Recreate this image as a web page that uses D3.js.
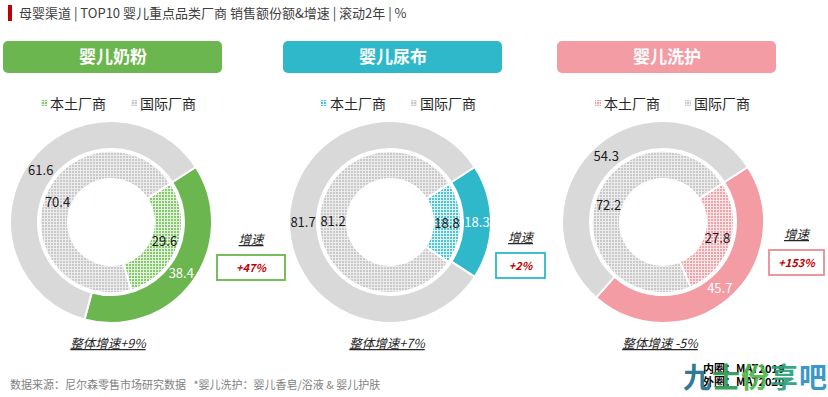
<!DOCTYPE html>
<html>
<head>
<meta charset="utf-8">
<script src="https://cdn.jsdelivr.net/npm/d3@7/dist/d3.min.js"></script>
<style>
  html, body { margin: 0; padding: 0; background: #fff; }
  svg { display: block; font-family: "Noto Sans CJK SC", "Noto Sans", sans-serif; }
</style>
</head>
<body>
<svg id="chart" width="828" height="397"></svg>
<script>
// data
const categories = ['婴儿奶粉', '婴儿尿布', '婴儿洗护'];
const vendors = ['本土厂商', '国际厂商'];
const localInner = [29.6, 18.8, 27.8];   // 内圈 MAT2019
const intlInner = [70.4, 81.2, 72.2];
const localOuter = [38.4, 18.3, 45.7];   // 外圈 MAT2020
const intlOuter = [61.6, 81.7, 54.3];
const localGrowth = ['+47%', '+2%', '+153%'];
const totalGrowth = ['整体增速+9%', '整体增速+7%', '整体增速 -5%'];

const titleText = '母婴渠道 | TOP10 婴儿重点品类厂商 销售额份额&增速 | 滚动2年 | %';
const sourceText = '数据来源：尼尔森零售市场研究数据   *婴儿洗护：婴儿香皂/浴液 & 婴儿护肤';

// layout / style
const colors = ['#6bb64e', '#2eb8c9', '#f39ca3'];
const dotColors = ['#86c86e', '#52c3d1', '#f0a3a9'];
const dotBg = ['#e3f2dd', '#ddf3f6', '#fbe6e8'];
const boxBorder = ['#6bb64e', '#2eb8c9', '#ea8b93'];
const panelX = [3, 283, 557];
const centerX = [111, 390, 663];
const centerY = 222;
const boxW = [68, 49, 55];
const boxY = [255, 253, 250];
const startAngle = 57 * Math.PI / 180;

const svg = d3.select('#chart');
const defs = svg.append('defs');

// small dotted tile, like the Excel pattern fill
function dotPattern(id, dot, bg) {
    const p = defs.append('pattern')
        .attr('id', id)
        .attr('patternUnits', 'userSpaceOnUse')
        .attr('width', 3).attr('height', 3);
    p.append('rect').attr('width', 3).attr('height', 3).attr('fill', bg);
    p.append('rect').attr('width', 2).attr('height', 2).attr('fill', dot);
}
dotPattern('dot-grey', '#c9c9c9', '#ececec');
colors.forEach((c, i) => dotPattern('dot-' + i, dotColors[i], dotBg[i]));

// title
svg.append('rect').attr('x', 8).attr('y', 5).attr('width', 4).attr('height', 16).attr('fill', '#c00000');
svg.append('text')
    .attr('x', 19).attr('y', 18)
    .style('font-size', '13px')
    .style('fill', '#404040')
    .text(titleText);

const pie = d3.pie().sort(null).value(d => d)
    .startAngle(startAngle).endAngle(startAngle + 2 * Math.PI);
const innerArc = d3.arc().innerRadius(43).outerRadius(71);
const outerArc = d3.arc().innerRadius(73).outerRadius(101);

categories.forEach((cat, i) => {
    const px = panelX[i];
    const cx = centerX[i];

    // header
    svg.append('rect')
        .attr('x', px).attr('y', 41)
        .attr('width', 219).attr('height', 32)
        .attr('rx', 5)
        .attr('fill', colors[i]);
    svg.append('text')
        .attr('x', px + 110).attr('y', 63)
        .attr('text-anchor', 'middle')
        .style('font-size', '17px')
        .style('font-weight', 'bold')
        .style('fill', '#fff')
        .text(cat);

    // legend
    const legendFill = ['url(#dot-' + i + ')', 'url(#dot-grey)'];
    vendors.forEach((v, j) => {
        const lx = px + 38 + j * 90;
        svg.append('rect')
            .attr('x', lx).attr('y', 100)
            .attr('width', 6).attr('height', 6)
            .attr('fill', legendFill[j]);
        svg.append('text')
            .attr('x', lx + 9).attr('y', 109)
            .style('font-size', '14px')
            .style('fill', '#262626')
            .text(v);
    });

    const g = svg.append('g').attr('transform', `translate(${cx},${centerY})`);

    const rings = [
        { arc: innerArc, values: [localInner[i], intlInner[i]],
          fills: ['url(#dot-' + i + ')', 'url(#dot-grey)'], labelColor: ['#1a1a1a', '#1a1a1a'] },
        { arc: outerArc, values: [localOuter[i], intlOuter[i]],
          fills: [colors[i], '#d9d9d9'], labelColor: ['#fff', '#1a1a1a'] }
    ];

    rings.forEach(ring => {
        const arcs = pie(ring.values);
        g.selectAll(null)
            .data(arcs)
            .enter()
            .append('path')
            .attr('d', ring.arc)
            .attr('fill', (d, k) => ring.fills[k])
            .attr('stroke', '#fff')
            .attr('stroke-width', 2);
        g.selectAll(null)
            .data(arcs)
            .enter()
            .append('text')
            .attr('transform', d => `translate(${ring.arc.centroid(d)})`)
            .attr('text-anchor', 'middle')
            .attr('dy', '0.36em')
            .style('font-size', '13px')
            .style('fill', (d, k) => ring.labelColor[k])
            .text(d => d.data.toFixed(1));
    });

    // growth box
    const bx = cx + 106;
    const bw = boxW[i];
    svg.append('text')
        .attr('x', bx + bw / 2).attr('y', boxY[i] - 11)
        .attr('text-anchor', 'middle')
        .style('font-size', '12.5px')
        .style('font-style', 'italic')
        .style('text-decoration', 'underline')
        .style('fill', '#262626')
        .text('增速');
    svg.append('rect')
        .attr('x', bx).attr('y', boxY[i])
        .attr('width', bw).attr('height', 25)
        .attr('fill', '#fff')
        .attr('stroke', boxBorder[i])
        .attr('stroke-width', 1.8);
    svg.append('text')
        .attr('x', bx + bw / 2).attr('y', boxY[i] + 17)
        .attr('text-anchor', 'middle')
        .style('font-size', '11px')
        .style('font-weight', 'bold')
        .style('font-style', 'italic')
        .style('fill', '#c00000')
        .text(localGrowth[i]);

    // overall growth
    svg.append('text')
        .attr('x', cx - 3).attr('y', 348)
        .attr('text-anchor', 'middle')
        .style('font-size', '12.5px')
        .style('font-style', 'italic')
        .style('text-decoration', 'underline')
        .style('fill', '#262626')
        .text(totalGrowth[i]);
});

// footer
svg.append('text')
    .attr('x', 10).attr('y', 389)
    .style('font-size', '11px')
    .style('fill', '#7f7f7f')
    .style('white-space', 'pre')
    .text(sourceText);

svg.append('text')
    .attr('x', 703).attr('y', 373)
    .style('font-size', '11px').style('font-weight', 'bold').style('fill', '#000')
    .text('内圈：MAT2019');
svg.append('text')
    .attr('x', 703).attr('y', 386)
    .style('font-size', '11px').style('font-weight', 'bold').style('fill', '#000')
    .text('外圈：MAT2020');

// watermark from the source picture
const wm = ['九', '士', '份', '享', '吧'];
const wmColors = ['#1f6f8b', '#2e9a55', '#4fb848', '#2c9f7a', '#2a8fc4'];
wm.forEach((c, k) => {
    svg.append('text')
        .attr('x', 683 + k * 29).attr('y', 388)
        .style('font-size', '28px')
        .style('font-weight', 'bold')
        .style('fill', wmColors[k])
        .style('opacity', 0.92)
        .text(c);
});
</script>
</body>
</html>
